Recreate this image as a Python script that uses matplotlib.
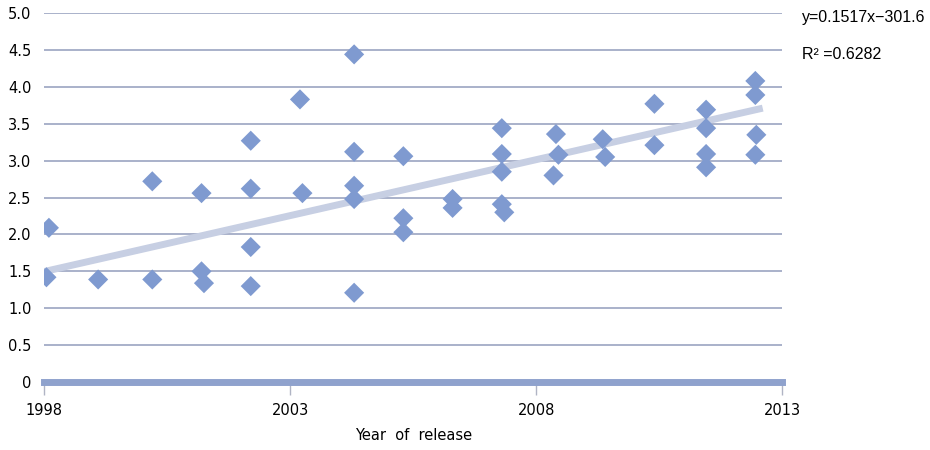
import matplotlib
matplotlib.use("Agg")
import matplotlib.pyplot as plt
import numpy as np

# release year and score
years = [1998.1, 1998.05, 1999.1, 2000.2, 2000.2, 2001.2, 2001.2, 2001.25,
         2002.2, 2002.2, 2002.2, 2002.2, 2003.2, 2003.25,
         2004.3, 2004.3, 2004.3, 2004.3, 2004.3,
         2005.3, 2005.3, 2005.3, 2006.3, 2006.3,
         2007.3, 2007.3, 2007.3, 2007.3, 2007.35,
         2008.4, 2008.45, 2008.35, 2009.35, 2009.4,
         2010.4, 2010.4, 2011.45, 2011.45, 2011.45, 2011.45,
         2012.45, 2012.45, 2012.47, 2012.45]
scores = [2.09, 1.42, 1.39, 2.72, 1.39, 2.56, 1.50, 1.34,
          3.27, 2.62, 1.83, 1.30, 3.83, 2.56,
          4.44, 3.12, 2.66, 2.48, 1.21,
          3.06, 2.22, 2.03, 2.48, 2.36,
          3.44, 3.09, 2.85, 2.41, 2.30,
          3.36, 3.08, 2.80, 3.29, 3.05,
          3.77, 3.21, 3.69, 3.44, 3.09, 2.91,
          4.08, 3.89, 3.35, 3.08]

slope, intercept, r2 = 0.1517, -301.6, 0.6282
trend_span = [1998.0, 2012.6]

xticks = [1998, 2003, 2008, 2013]
yticks = [0, 0.5, 1.0, 1.5, 2.0, 2.5, 3.0, 3.5, 4.0, 4.5, 5.0]
ytick_labels = ["0", "0.5", "1.0", "1.5", "2.0", "2.5", "3.0", "3.5", "4.0", "4.5", "5.0"]

plt.rcParams["font.family"] = ["DejaVu Sans"]

fig = plt.figure(figsize=(9.3, 4.5), dpi=100)
ax = fig.add_axes([0.0473, 0.151, 0.794, 0.820])
ax.set_xlim(1998, 2013)
ax.set_ylim(0, 5)

for y in yticks[1:]:
    ax.axhline(y, color="#a3abc6", lw=1.3, zorder=1)
ax.axhline(0, color="#8fa2cd", lw=5, zorder=2, clip_on=False)

tx = np.array(trend_span)
ax.plot(tx, slope * tx + intercept, color="#c7cfe3", lw=5,
        solid_capstyle="butt", zorder=3)
ax.scatter(years, scores, marker="D", s=105, color="#7f9ad0",
           edgecolors="none", zorder=4)

for s in ax.spines.values():
    s.set_visible(False)
ax.set_xticks(xticks)
ax.set_xticklabels([str(v) for v in xticks], fontsize=10.5)
ax.tick_params(axis="x", length=9, width=1, color="#b0b4c4", pad=6)
ax.set_yticks(yticks)
ax.set_yticklabels(ytick_labels, fontsize=10.5)
ax.tick_params(axis="y", length=0, pad=9)
ax.get_yticklabels()[0].set_y(0.06)
ax.set_xlabel("Year  of  release", fontsize=10.5, labelpad=7)

fig.text(0.862, 0.962, f"y={slope}x\u2212{abs(intercept)}", fontsize=11.5,
         family="Liberation Sans", va="center", ha="left")
fig.text(0.862, 0.878, f"R\u00b2 ={r2}", fontsize=11.5,
         family="Liberation Sans", va="center", ha="left")

fig.savefig("out.png", dpi=100, facecolor="white")
